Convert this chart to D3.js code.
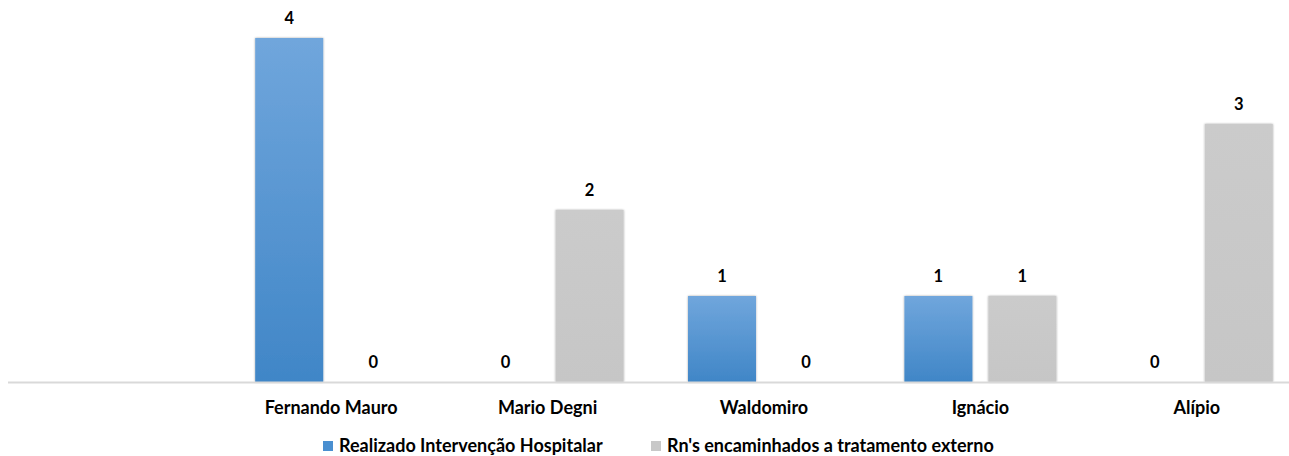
<!DOCTYPE html>
<html><head><meta charset="utf-8">
<script src="https://cdn.jsdelivr.net/npm/d3@7"></script>
<style>body{margin:0;background:#fff}svg{display:block;font-family:Lato,"Open Sans",sans-serif}</style>
</head><body><svg id="c" width="1289" height="456"></svg>
<script>
const categories = ["Fernando Mauro","Mario Degni","Waldomiro","Ignácio","Alípio"];
const seriesNames = ["Realizado Intervenção Hospitalar","Rn's encaminhados a tratamento externo"];
const realizado = [4,0,1,1,0];
const encaminhados = [0,2,0,1,3];
const seriesValues = [realizado, encaminhados];

const svg = d3.select("#c");
const W = 1289, baseY = 382, topY = 38;
const defs = svg.append("defs");
const g1 = defs.append("linearGradient").attr("id","gBlue").attr("x1",0).attr("y1",0).attr("x2",0).attr("y2",1);
g1.append("stop").attr("offset","0%").attr("stop-color","#70a6dc");
g1.append("stop").attr("offset","100%").attr("stop-color","#4086c7");
const g2 = defs.append("linearGradient").attr("id","gGray").attr("x1",0).attr("y1",0).attr("x2",0).attr("y2",1);
g2.append("stop").attr("offset","0%").attr("stop-color","#cbcbcb");
g2.append("stop").attr("offset","100%").attr("stop-color","#c6c6c6");
const f = defs.append("filter").attr("id","sh").attr("x","-20%").attr("y","-20%").attr("width","140%").attr("height","140%");
f.append("feGaussianBlur").attr("in","SourceAlpha").attr("stdDeviation",1.2).attr("result","b");
f.append("feOffset").attr("in","b").attr("dx",0).attr("dy",0).attr("result","o");
f.append("feComponentTransfer").attr("in","o").attr("result","o2").append("feFuncA").attr("type","linear").attr("slope",0.35);
const m = f.append("feMerge"); m.append("feMergeNode").attr("in","o2"); m.append("feMergeNode").attr("in","SourceGraphic");

const fills = ["url(#gBlue)","url(#gGray)"];
const legendColors = ["#4a8fd0","#c8c8c8"];

const x = d3.scaleBand().domain(categories).range([223, 1305]).padding(0);
const x1 = d3.scaleBand().domain([0,1]).range([-76, 76]).paddingInner(0.19);
const y = d3.scaleLinear().domain([0,4]).range([baseY, topY]);

const data = [];
categories.forEach((c,i)=>seriesValues.forEach((s,j)=>data.push({c, j, v:s[i]})));

svg.append("g").selectAll("rect").data(data.filter(d=>d.v>0)).join("rect")
  .attr("x", d=>x(d.c)+x.bandwidth()/2+x1(d.j))
  .attr("y", d=>y(d.v))
  .attr("width", x1.bandwidth())
  .attr("height", d=>baseY-y(d.v))
  .attr("fill", d=>fills[d.j])
  .attr("filter","url(#sh)");

svg.append("line").attr("x1",8).attr("x2",W).attr("y1",baseY+0.5).attr("y2",baseY+0.5)
  .attr("stroke","#d9d9d9").attr("stroke-width",2);

svg.append("g").selectAll("text").data(data).join("text")
  .attr("x", d=>x(d.c)+x.bandwidth()/2+x1(d.j)+x1.bandwidth()/2)
  .attr("y", d=>y(d.v)-14)
  .attr("text-anchor","middle").attr("font-size",16.5).attr("font-weight","bold").attr("fill","#000")
  .text(d=>d.v);

svg.append("g").selectAll("text").data(categories).join("text")
  .attr("x", d=>x(d)+x.bandwidth()/2).attr("y", 414)
  .attr("text-anchor","middle").attr("font-size",18).attr("font-weight","bold").attr("fill","#000")
  .text(d=>d);

const legX = [323, 651];
const lg = svg.append("g").selectAll("g").data(seriesNames).join("g")
  .attr("transform",(d,i)=>`translate(${legX[i]},0)`);
lg.append("rect").attr("x",0).attr("y",441).attr("width",10).attr("height",10).attr("fill",(d,i)=>legendColors[i]);
lg.append("text").attr("x",16).attr("y",452).attr("font-size",18).attr("font-weight","bold").attr("fill","#000").text(d=>d);
</script></body></html>
